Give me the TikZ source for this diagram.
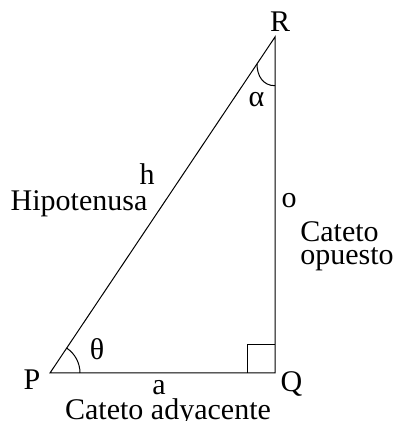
\documentclass[tikz,border=0pt]{standalone}
\usepackage{fontspec}
\setmainfont{Liberation Serif}
\usetikzlibrary{calc}
\definecolor{ink}{HTML}{000000}

\begin{document}
\begin{tikzpicture}[x=0.5pt, y=0.5pt, font=\fontsize{15}{17}\selectfont,
  side/.style={draw=ink, line width=0.5pt},
  lab/.style={anchor=base, inner sep=0pt, text=ink},
  labl/.style={anchor=base west, inner sep=0pt, text=ink}]
\useasboundingbox (0,0) rectangle (394,421);

% ---------------- vertices
\coordinate (P) at (50,48);
\coordinate (Q) at (275,48);
\coordinate (R) at (275,384);
\draw[side] (P) -- (Q) -- (R) -- cycle;

% ---------------- angle marks
\draw[side] ($(Q)+(-28,0)$) |- ($(Q)+(0,28)$);
\draw[side] ($(P)+(30,0)$) arc[start angle=0, end angle=56.2, radius=30];
\draw[side] ($(R)!0.08!(P)$) .. controls +(0,-12) and +(-12,0) .. ($(R)!0.145!(Q)$);

% ---------------- vertex and side labels
\node[lab] (lP) at (32,31) {P};
\node[lab] (lQ) at (291.5,29) {Q};
\node[lab] (lR) at (280,389) {R};
\node[lab] (ltheta) at (97,61) {θ};
\node[lab] (lalpha) at (256.5,314) {α};
\node[lab] (la) at (159,26) {a};
\node[lab] (ladj) at (168,2) {Cateto adyacente};
\node[lab] (lh) at (147,236) {h};
\node[lab] (lhyp) at (79,210) {Hipotenusa};
\node[lab] (lo) at (289,213) {o};
\node[labl] (lopp1) at (300,179) {Cateto};
\node[labl] (lopp2) at (300,156) {opuesto};
\end{tikzpicture}
\end{document}
